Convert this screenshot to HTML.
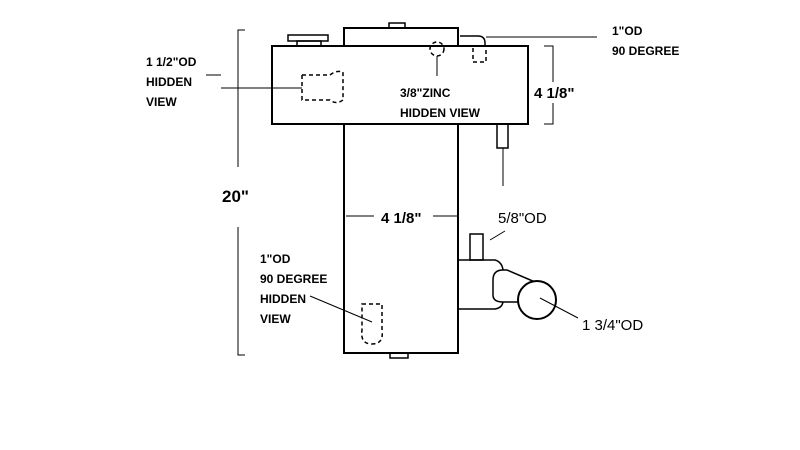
<!DOCTYPE html>
<html><head><style>
html,body{margin:0;padding:0;background:#fff;width:800px;height:450px;overflow:hidden}
text{font-family:"Liberation Sans",Arial,sans-serif;font-weight:bold;font-size:12px;fill:#000}
</style></head><body>
<svg width="800" height="450" viewBox="0 0 800 450" xmlns="http://www.w3.org/2000/svg">
<g fill="none" stroke="#000" stroke-width="2">
<!-- main body -->
<rect x="344" y="28" width="114" height="325"/>
<rect x="272" y="46" width="256" height="78" fill="#fff"/>
<rect x="389" y="23" width="16" height="5" stroke-width="1.5"/>
<rect x="390" y="353" width="18" height="5" stroke-width="1.5"/>
<!-- left cap -->
<rect x="288" y="35" width="40" height="6" stroke-width="1.5"/>
<rect x="297" y="41" width="24" height="5" stroke-width="1.5"/>
<!-- top right pipe -->
<path d="M460 36 H478 Q485 36 485 43 V46" stroke-width="1.5"/>
<path d="M473 48 V62 H486 V48" stroke-dasharray="4,3" stroke-width="1.5"/>
<!-- zinc hidden -->
<circle cx="437" cy="49" r="7" stroke-dasharray="4,3" stroke-width="1.5"/>
<!-- left hidden -->
<path d="M302 75 H330 Q336 70 343 72 V100 Q336 105 330 100 H302 Z" stroke-dasharray="4,3" stroke-width="1.5"/>
<!-- pipe below top box -->
<rect x="497" y="124" width="11" height="24" stroke-width="1.5"/>
<!-- bottom fittings -->
<rect x="470" y="234" width="13" height="26" stroke-width="1.5"/>
<path d="M458 260 H495 Q502 262 503 270" stroke-width="1.5"/>
<path d="M458 309 H495 Q502 308 503 302" stroke-width="1.5"/>
<path d="M503 270 Q493 270 493 280 V295 Q493 302 503 302 H520 L535 282 L507 270 Z" stroke-width="1.5"/>
<circle cx="537" cy="300" r="19" fill="#fff"/>
<!-- bottom left hidden -->
<path d="M362 304 H382 V330 Q384 344 372 344 Q360 344 362 330 Z" stroke-dasharray="4,3" stroke-width="1.5"/>
</g>
<g fill="none" stroke="#000" stroke-width="1">
<!-- 20" dim -->
<path d="M245 30 H238 V167"/>
<path d="M238 227 V355 H245"/>
<!-- right 4 1/8 dim -->
<path d="M544 46 H553 V82"/>
<path d="M553 103 V124 H544"/>
<!-- middle 4 1/8 -->
<path d="M346 216 H374 M433 216 H457"/>
<!-- leaders -->
<path d="M206 75 H221 M221 88 H302"/>
<path d="M486 37 H597"/>
<path d="M437 56 V76"/>
<path d="M503 148 V186"/>
<path d="M490 240 L505 231"/>
<path d="M540 298 L578 318"/>
<path d="M310 296 L372 322"/>
</g>
<text x="146" y="66">1 1/2"OD</text>
<text x="146" y="86">HIDDEN</text>
<text x="146" y="106">VIEW</text>
<text x="612" y="35">1"OD</text>
<text x="612" y="55">90 DEGREE</text>
<text x="400" y="97">3/8"ZINC</text>
<text x="400" y="117">HIDDEN VIEW</text>
<text x="534" y="98" style="font-size:15px">4 1/8"</text>
<text x="222" y="202" style="font-size:17px">20"</text>
<text x="381" y="223" style="font-size:15px">4 1/8"</text>
<text x="498" y="223" style="font-size:15px;font-weight:normal">5/8"OD</text>
<text x="260" y="263">1"OD</text>
<text x="260" y="283">90 DEGREE</text>
<text x="260" y="303">HIDDEN</text>
<text x="260" y="323">VIEW</text>
<text x="582" y="330" style="font-size:15px;font-weight:normal">1 3/4"OD</text>
</svg>
</body></html>
